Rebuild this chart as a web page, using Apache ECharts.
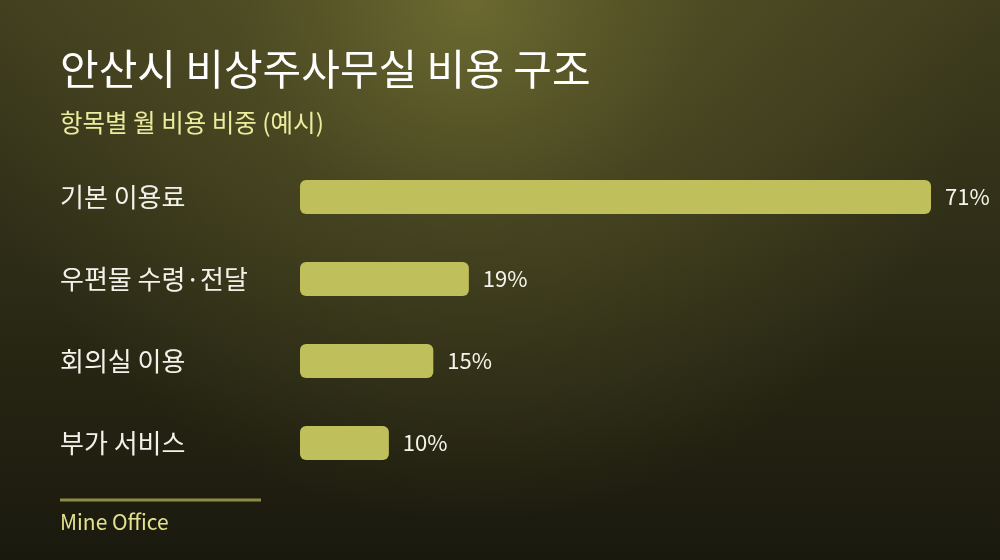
<!DOCTYPE html>
<html>
<head>
<meta charset="utf-8">
<script src="https://cdn.jsdelivr.net/npm/echarts@6/dist/echarts.min.js"></script>
<style>
html,body{margin:0;padding:0;background:#1b1a0f;}
#main{width:1000px;height:560px;}
</style>
</head>
<body>
<div id="main"></div>
<script>
const titleText = '안산시 비상주사무실 비용 구조';
const subtitleText = '항목별 월 비용 비중 (예시)';
const sourceText = 'Mine Office';
const categories = ['기본 이용료', '우편물 수령·전달', '회의실 이용', '부가 서비스'];
const values = [71, 19, 15, 10];

const FONT = '"Noto Sans CJK KR", "Noto Sans", sans-serif';
const chart = echarts.init(document.getElementById('main'));
chart.setOption({
  backgroundColor: {
    type: 'linear', x: 0, y: 0, x2: 0, y2: 1,
    colorStops: [
      { offset: 0, color: '#3f3d1e' },
      { offset: 0.55, color: '#2a2915' },
      { offset: 1, color: '#1a190e' }
    ]
  },
  graphic: [
    {
      type: 'rect', silent: true, z: -10,
      shape: { x: 0, y: 0, width: 1000, height: 560 },
      style: {
        fill: {
          type: 'radial', x: 470, y: 0, r: 520, global: true,
          colorStops: [
            { offset: 0, color: 'rgba(112,110,50,0.92)' },
            { offset: 0.45, color: 'rgba(100,98,44,0.4)' },
            { offset: 1, color: 'rgba(100,98,44,0)' }
          ]
        }
      }
    },
    {
      type: 'line', silent: true,
      shape: { x1: 60, y1: 500, x2: 261, y2: 500 },
      style: { stroke: '#8d8b45', lineWidth: 3 }
    }
  ],
  title: [
    { text: titleText, left: 60, top: 44, padding: 0,
      textStyle: { fontFamily: FONT, fontSize: 42, fontWeight: 400, color: '#ffffff', lineHeight: 50 } },
    { text: subtitleText, left: 60, top: 109, padding: 0,
      textStyle: { fontFamily: FONT, fontSize: 24.5, fontWeight: 400, color: '#ecec9e', lineHeight: 28 } },
    { text: sourceText, left: 60, top: 510, padding: 0,
      textStyle: { fontFamily: FONT, fontSize: 21, fontWeight: 400, color: '#e2e28e', lineHeight: 24 } }
  ],
  grid: { left: 300, right: 69, top: 156, bottom: 76, containLabel: false },
  xAxis: {
    type: 'value', min: 0, max: 71, show: false
  },
  yAxis: {
    type: 'category', data: categories, inverse: true,
    axisLine: { show: false }, axisTick: { show: false }, splitLine: { show: false },
    axisLabel: {
      margin: 240, align: 'left', color: '#f2f2ea',
      fontFamily: FONT, fontSize: 26
    }
  },
  series: [{
    type: 'bar', data: values, barWidth: 34,
    itemStyle: { color: '#bfbf5b', borderRadius: 6 },
    label: {
      show: true, position: 'right', distance: 14,
      formatter: '{c}%', color: '#f4f4ea',
      fontFamily: FONT, fontSize: 22
    },
    silent: true, animation: false
  }],
  animation: false
});
</script>
</body>
</html>
